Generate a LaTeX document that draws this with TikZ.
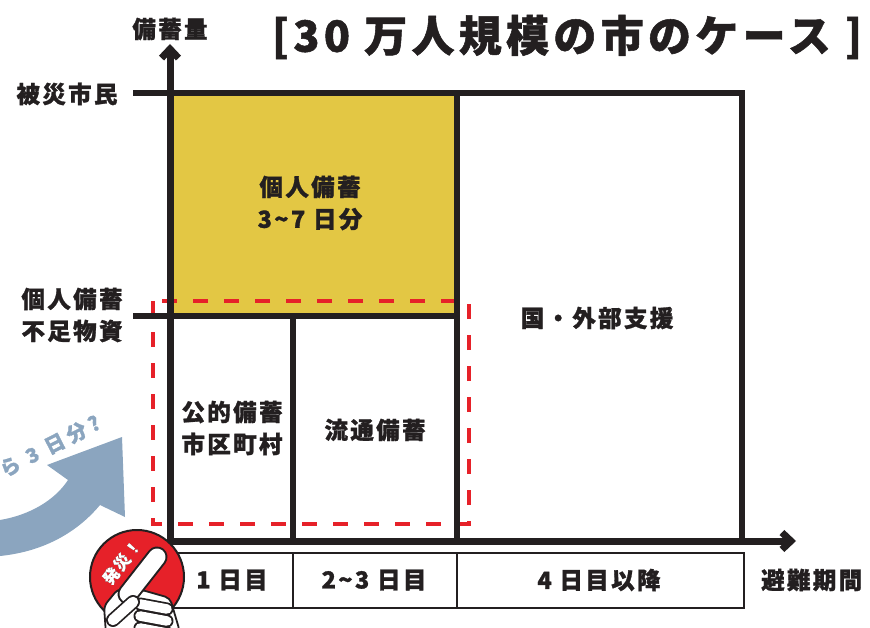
\documentclass[tikz,border=0pt]{standalone}
\usepackage{fontspec}
\setmainfont{Noto Sans CJK JP}[LetterSpace=10, BoldFeatures={FakeBold=1.2}]
\usetikzlibrary{arrows.meta}
\usetikzlibrary{positioning}

\definecolor{ink}{HTML}{231F20}
\definecolor{stock}{HTML}{E3C744}
\definecolor{alert}{HTML}{E62129}
\definecolor{haze}{HTML}{8BA5BF}

\begin{document}
\begin{tikzpicture}[x=1pt, y=-1pt]

    \tikzstyle{axis}    = [line width=7pt, ink, -{Straight Barb[length=9pt, width=17pt]}];
    \tikzstyle{frame}   = [line width=6pt, ink];
    \tikzstyle{grid}    = [line width=2.5pt, ink];
    \tikzstyle{reserve} = [line width=4.5pt, alert, dash pattern=on 15pt off 16pt];
    \tikzstyle{word}    = [font=\bfseries\fontsize{23.5}{32}\selectfont, text=ink, align=center, inner sep=0pt];
    \tikzstyle{headline}= [font=\bfseries\fontsize{43}{48}\selectfont, text=ink, inner sep=0pt];
    \tikzstyle{glove}   = [draw=ink, fill=white, line width=1.8pt, rounded corners=5pt];

    \useasboundingbox (0,0) rectangle (870,628);

    %
    % Grid corners
    %
    \coordinate (origin)    at (170,541);
    \coordinate (top-tick)  at (133,93);
    \coordinate (top-mid)   at (457,93);
    \coordinate (top-right) at (742,93);
    \coordinate (low-tick)  at (133,316);
    \coordinate (low-mid)   at (457,316);
    \coordinate (low-split) at (293,316);

    % Personal stock block
    \fill[stock] (172,93) rectangle (low-mid);

    % Three days of public + distribution stock
    \draw[reserve] (153,301) rectangle (469,524);

    \draw[frame] (top-tick) -- (top-right) -- (top-right |- origin);
    \draw[frame] (top-mid) -- (top-mid |- origin);
    \draw[frame] (low-tick) -- (low-mid);
    \draw[frame] (low-split) -- (low-split |- origin);

    %
    % Axes
    %
    \draw[axis] (167,541) -- (796,541);
    \draw[axis] (170,545) -- (170,44);

    %
    % Days row
    %
    \draw[grid] (172,553) rectangle (744,608);
    \draw[grid] (293,553) -- (293,608);
    \draw[grid] (457,553) -- (457,608);

    \node[word] (day-1)    at (232,580) {1 日目};
    \node[word] (day-2)    at (374,580) {2\textasciitilde 3 日目};
    \node[word] (day-4)    at (599,580) {4 日目以降};
    \node[word, anchor=west] (period) at (761,580) {避難期間};

    %
    % Labels
    %
    \node[headline] (title) at (567,37) {[30 万人規模の市のケース ]};
    \node[word] (amount)   at (170,29)  {備蓄量};
    \node[word] (citizens) at (67,94)   {被災市民};
    \node[word] (shortage) at (72,315)  {個人備蓄\\不足物資};

    \node[word] (personal) at (310,203) {個人備蓄\\3\textasciitilde 7 日分};
    \node[word] (public)   at (232,428) {公的備蓄\\市区町村};
    \node[word] (market)   at (375,430) {流通備蓄};
    \node[word] (support)  at (597,318) {国・外部支援};

    %
    % Arrow from the quake
    %
    \fill[haze] (0,520) .. controls (30,515) and (55,500) .. (68,480)
        -- (47,465) -- (122,437) -- (125,517) -- (100,505)
        .. controls (75,535) and (40,552) .. (0,556) -- cycle;
    \node[word, text=haze, font=\bfseries\fontsize{20}{22}\selectfont\addfontfeatures{LetterSpace=22}, rotate=27] (three-days) at (50,446) {ら 3 日分?};

    %
    % Quake badge
    %
    \node[circle, draw=ink, fill=alert, line width=2pt, minimum size=94pt, inner sep=0pt] (badge) at (137,577) {};
    \node[text=ink, font=\bfseries\fontsize{16}{18}\selectfont\addfontfeatures{FakeBold=7}, rotate=52, inner sep=0pt] (quake-edge) at (122,562) {発災！};
    \node[text=white, font=\bfseries\fontsize{16}{18}\selectfont, rotate=52, inner sep=0pt] (quake) at (quake-edge) {発災！};

    % Pointing hand
    \draw[glove] (104,606) -- (118,589) -- (142,590) -- (170,598) -- (180,632) -- (106,634) -- cycle;
    \draw[ink, line width=21pt, line cap=round] (128,594) -- (157,557);
    \draw[white, line width=17pt, line cap=round] (128,594) -- (157,557);
    \foreach \y in {628,616,604} {
        \draw[ink, line width=13pt, line cap=round] (140,\y) -- (167,\y+5);
        \draw[white, line width=9.5pt, line cap=round] (140,\y) -- (167,\y+5);
    }
    \draw[ink, line width=14pt, line cap=round] (113,620) -- (133,602);
    \draw[white, line width=10.5pt, line cap=round] (113,620) -- (133,602);

\end{tikzpicture}
\end{document}
